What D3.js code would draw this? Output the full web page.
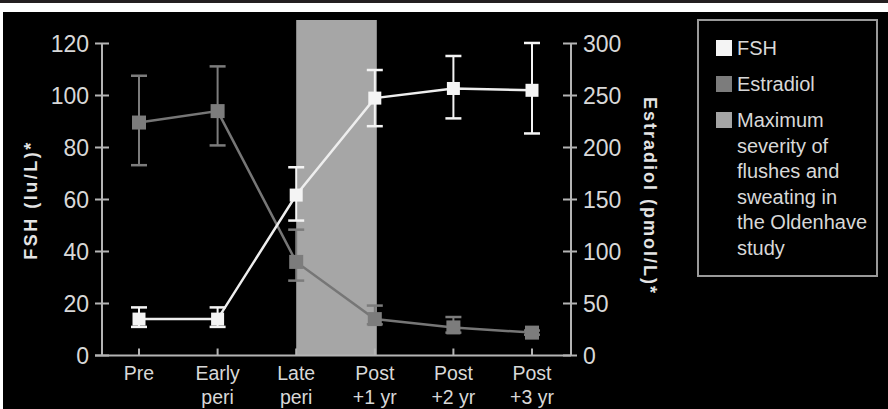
<!DOCTYPE html>
<html>
<head>
<meta charset="utf-8">
<script src="https://cdn.jsdelivr.net/npm/d3@7"></script>
<style>
  body { margin: 0; background: #fff; }
  text { font-family: "Liberation Sans", Arial, sans-serif; fill: #d8d8d8; }
</style>
</head>
<body>
<div id="chart"></div>
<script>
// data
var stages = ["Pre", "Early peri", "Late peri", "Post +1 yr", "Post +2 yr", "Post +3 yr"];
var fshMean = [14, 14, 61.7, 99, 102.7, 102];
var fshLow = [11, 11, 51.9, 88.2, 91.2, 85.4];
var fshHigh = [18.5, 18.5, 72.4, 109.8, 115.2, 120.2];
var estMean = [224, 235, 90, 35, 27, 22];
var estLow = [183, 202, 72, 30, 22, 20];
var estHigh = [269, 278, 121, 48, 37, 24];
var fshTicks = [0, 20, 40, 60, 80, 100, 120];
var estTicks = [0, 50, 100, 150, 200, 250, 300];
var bandStages = ["Late peri", "Post +1 yr"];
var legendItems = [
  { label: ["FSH"], color: "#f4f4f4" },
  { label: ["Estradiol"], color: "#7c7c7c" },
  { label: ["Maximum", "severity of", "flushes and", "sweating in", "the Oldenhave", "study"], color: "#a4a4a4" }
];

var W = 888, H = 409;
var svg = d3.select("#chart").append("svg")
    .attr("width", W)
    .attr("height", H);

// frame: dark rule on top, white strip, black panel
svg.append("rect").attr("x", 0).attr("y", 0).attr("width", W).attr("height", 3).attr("fill", "#231f20");
svg.append("rect").attr("x", 3).attr("y", 12).attr("width", W - 3).attr("height", H - 12).attr("fill", "#000");

var x = d3.scalePoint().domain(stages).range([139, 532]);
var yL = d3.scaleLinear().domain([0, 120]).range([355.5, 43.5]);
var yR = d3.scaleLinear().domain([0, 300]).range([355.5, 43.5]);

// shaded band
svg.append("rect")
    .attr("x", x(bandStages[0]))
    .attr("y", 20)
    .attr("width", x(bandStages[1]) - x(bandStages[0]) + 2)
    .attr("height", yL(0) - 20)
    .attr("fill", "#a6a6a6");

var axisColor = "#b4b4b4";

// left axis
var left = svg.append("g").attr("transform", "translate(102,0)");
left.append("line").attr("y1", yL(120)).attr("y2", yL(0)).attr("stroke", axisColor).attr("stroke-width", 2);
left.selectAll(".tk").data(fshTicks).enter().append("line")
    .attr("x1", -7).attr("x2", 7)
    .attr("y1", function(d) { return yL(d); })
    .attr("y2", function(d) { return yL(d); })
    .attr("stroke", axisColor).attr("stroke-width", 2);
left.selectAll(".lb").data(fshTicks).enter().append("text")
    .attr("x", -13)
    .attr("y", function(d) { return yL(d); })
    .attr("dy", "0.36em")
    .attr("text-anchor", "end")
    .style("font-size", "23px")
    .text(function(d) { return d; });

// right axis
var right = svg.append("g").attr("transform", "translate(571,0)");
right.append("line").attr("y1", yR(300)).attr("y2", yR(0)).attr("stroke", axisColor).attr("stroke-width", 2);
right.selectAll(".tk").data(estTicks).enter().append("line")
    .attr("x1", -8).attr("x2", 6)
    .attr("y1", function(d) { return yR(d); })
    .attr("y2", function(d) { return yR(d); })
    .attr("stroke", axisColor).attr("stroke-width", 2);
right.selectAll(".lb").data(estTicks).enter().append("text")
    .attr("x", 12)
    .attr("y", function(d) { return yR(d); })
    .attr("dy", "0.36em")
    .style("font-size", "23px")
    .text(function(d) { return d; });

// x axis
svg.append("line")
    .attr("x1", 95).attr("x2", 571)
    .attr("y1", yL(0)).attr("y2", yL(0))
    .attr("stroke", axisColor).attr("stroke-width", 2);
svg.selectAll(".xtk").data(stages).enter().append("line")
    .attr("x1", function(d) { return x(d); })
    .attr("x2", function(d) { return x(d); })
    .attr("y1", yL(0) - 7).attr("y2", yL(0))
    .attr("stroke", axisColor).attr("stroke-width", 2);
svg.selectAll(".xlb").data(stages).enter().append("text")
    .attr("x", function(d) { return x(d); })
    .attr("y", 380)
    .attr("text-anchor", "middle")
    .style("font-size", "19.5px")
    .each(function(d) {
      var parts = d.indexOf("Pre") === 0 ? [d] : [d.split(" ")[0], d.split(" ").slice(1).join(" ")];
      d3.select(this).selectAll("tspan").data(parts).enter().append("tspan")
        .attr("x", x(d))
        .attr("dy", function(p, i) { return i === 0 ? 0 : 24; })
        .text(function(p) { return p; });
    });

// axis titles
svg.append("text")
    .attr("transform", "translate(37,200) rotate(-90)")
    .attr("text-anchor", "middle")
    .style("font-size", "18px")
    .style("font-weight", "bold")
    .style("letter-spacing", "2.5px")
    .style("fill", "#e4e4e4")
    .text("FSH (Iu/L)*");
svg.append("text")
    .attr("transform", "translate(644,196) rotate(90)")
    .attr("text-anchor", "middle")
    .style("font-size", "18px")
    .style("font-weight", "bold")
    .style("letter-spacing", "2px")
    .style("fill", "#e4e4e4")
    .text("Estradiol (pmol/L)*");

// series drawing
function drawSeries(mean, low, high, yScale, color, lineColor, size) {
  var g = svg.append("g");
  var idx = d3.range(stages.length);
  g.selectAll(".eb").data(idx).enter().append("line")
      .attr("x1", function(i) { return x(stages[i]); })
      .attr("x2", function(i) { return x(stages[i]); })
      .attr("y1", function(i) { return yScale(low[i]); })
      .attr("y2", function(i) { return yScale(high[i]); })
      .attr("stroke", color).attr("stroke-width", 2);
  [low, high].forEach(function(arr) {
    g.selectAll(null).data(idx).enter().append("line")
        .attr("x1", function(i) { return x(stages[i]) - 8; })
        .attr("x2", function(i) { return x(stages[i]) + 8; })
        .attr("y1", function(i) { return yScale(arr[i]); })
        .attr("y2", function(i) { return yScale(arr[i]); })
        .attr("stroke", color).attr("stroke-width", 2.5);
  });
  var line = d3.line()
      .x(function(i) { return x(stages[i]); })
      .y(function(i) { return yScale(mean[i]); });
  g.append("path")
      .datum(idx)
      .attr("d", line)
      .attr("fill", "none")
      .attr("stroke", lineColor)
      .attr("stroke-width", 2.5);
  g.selectAll(".sq").data(idx).enter().append("rect")
      .attr("x", function(i) { return x(stages[i]) - size / 2; })
      .attr("y", function(i) { return yScale(mean[i]) - size / 2; })
      .attr("width", size).attr("height", size)
      .attr("fill", color);
}

drawSeries(estMean, estLow, estHigh, yR, "#7c7c7c", "#767676", 14);
drawSeries(fshMean, fshLow, fshHigh, yL, "#f4f4f4", "#eeeeee", 13);

// legend
var lg = svg.append("g");
lg.append("rect")
    .attr("x", 698).attr("y", 20)
    .attr("width", 179).attr("height", 256)
    .attr("fill", "none")
    .attr("stroke", "#9a9a9a")
    .attr("stroke-width", 2);
var rowY = [48, 84, 120];
legendItems.forEach(function(item, i) {
  lg.append("rect")
      .attr("x", 716).attr("y", rowY[i] - 8)
      .attr("width", 16).attr("height", 16)
      .attr("fill", item.color);
  var t = lg.append("text")
      .attr("x", 737).attr("y", rowY[i])
      .style("font-size", "20px");
  t.selectAll("tspan").data(item.label).enter().append("tspan")
      .attr("x", 737)
      .attr("dy", function(p, j) { return j === 0 ? "0.36em" : 25.5; })
      .text(function(p) { return p; });
});
</script>
</body>
</html>
